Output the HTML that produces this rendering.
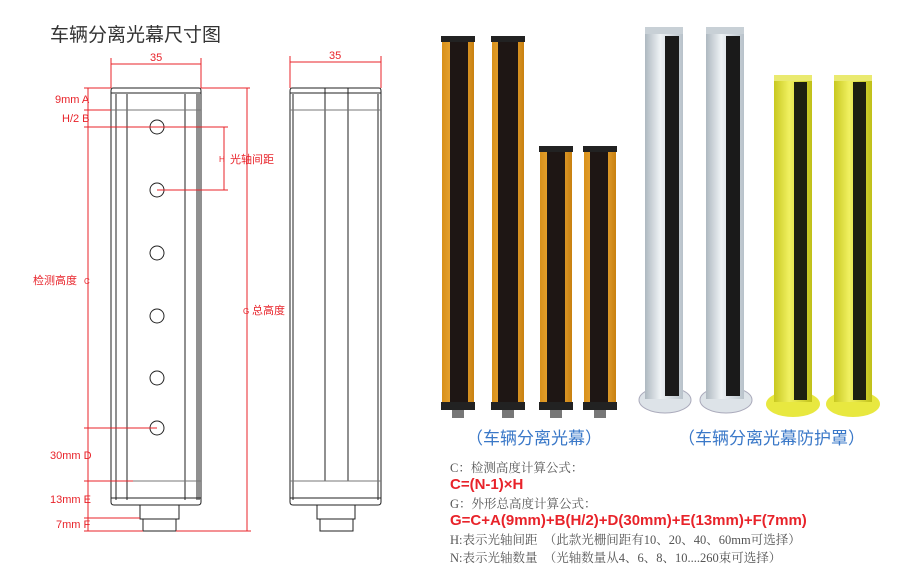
<!DOCTYPE html>
<html><head><meta charset="utf-8"><style>
body{margin:0;background:#fff;width:912px;height:581px;overflow:hidden;position:relative;font-family:"Liberation Sans","Noto Sans CJK SC",sans-serif}
.t{position:absolute;white-space:nowrap}
.f{font-family:"Liberation Serif","Noto Serif CJK SC",serif;color:#555;font-size:12.5px}
.r{color:#e8232a;font-weight:bold;font-size:15px;font-family:"Liberation Sans","Noto Sans CJK SC",sans-serif}
</style></head><body>
<svg width="912" height="581" style="position:absolute;left:0;top:0" font-family="Liberation Sans, Noto Sans CJK SC, sans-serif">
<defs>
<linearGradient id="og" x1="0" x2="1"><stop offset="0" stop-color="#d8901a"/><stop offset=".5" stop-color="#f0b040"/><stop offset="1" stop-color="#c88010"/></linearGradient>
<linearGradient id="sg" x1="0" x2="1"><stop offset="0" stop-color="#aeb8c0"/><stop offset=".4" stop-color="#eef2f5"/><stop offset="1" stop-color="#b8c2ca"/></linearGradient>
<linearGradient id="yg" x1="0" x2="1"><stop offset="0" stop-color="#c8c820"/><stop offset=".4" stop-color="#f0f060"/><stop offset="1" stop-color="#c0c018"/></linearGradient>
</defs>
<g stroke="#222" stroke-width="1" fill="none">
<path d="M113,88 H199 Q201,88 201,91 V502 Q201,505 198,505 H114 Q111,505 111,502 V91 Q111,88 113,88Z"/>
<line x1="116" y1="94" x2="116" y2="500"/><line x1="127" y1="94" x2="127" y2="500"/>
<line x1="185" y1="94" x2="185" y2="500"/><line x1="197" y1="94" x2="197" y2="500"/><line x1="199" y1="94" x2="199" y2="500"/>
<line x1="111" y1="110" x2="201" y2="110" stroke="#777"/>
<line x1="111" y1="481" x2="201" y2="481" stroke="#777"/>
<line x1="111" y1="93" x2="201" y2="93"/><line x1="111" y1="498" x2="201" y2="498"/>
<path d="M140,505 V519 H179 V505 M143,519 V531 H176 V519"/>
<path d="M292,88 H379 Q381,88 381,91 V502 Q381,505 378,505 H293 Q290,505 290,502 V91 Q290,88 292,88Z"/>
<line x1="293" y1="94" x2="293" y2="500"/><line x1="378" y1="94" x2="378" y2="500"/>
<line x1="325" y1="88" x2="325" y2="481"/><line x1="348" y1="88" x2="348" y2="481"/>
<line x1="290" y1="110" x2="381" y2="110" stroke="#777"/><line x1="290" y1="481" x2="381" y2="481" stroke="#777"/>
<line x1="290" y1="93" x2="381" y2="93"/><line x1="290" y1="498" x2="381" y2="498"/>
<path d="M317,505 V519 H355 V505 M320,519 V531 H353 V519"/>
<g fill="#fff"><circle cx="157" cy="127" r="7"/><circle cx="157" cy="190" r="7"/><circle cx="157" cy="253" r="7"/><circle cx="157" cy="316" r="7"/><circle cx="157" cy="378" r="7"/><circle cx="157" cy="428" r="7"/></g>
</g>
<g stroke="#e8232a" stroke-width="1" fill="none">
<line x1="111" y1="58" x2="111" y2="88"/><line x1="201" y1="58" x2="201" y2="88"/><line x1="111" y1="64" x2="201" y2="64"/>
<line x1="290" y1="56" x2="290" y2="88"/><line x1="381" y1="56" x2="381" y2="88"/><line x1="290" y1="62" x2="381" y2="62"/>
<line x1="88" y1="88" x2="88" y2="531"/>
<line x1="84" y1="88" x2="111" y2="88"/><line x1="201" y1="88" x2="250" y2="88"/>
<line x1="84" y1="110" x2="111" y2="110"/>
<line x1="84" y1="127" x2="157" y2="127"/><line x1="157" y1="127" x2="228" y2="127"/><line x1="157" y1="190" x2="228" y2="190"/>
<line x1="224" y1="127" x2="224" y2="190"/>
<line x1="84" y1="428" x2="157" y2="428"/>
<line x1="84" y1="481" x2="133" y2="481"/><line x1="84" y1="518" x2="140" y2="518"/>
<line x1="84" y1="531" x2="143" y2="531"/><line x1="176" y1="531" x2="251" y2="531"/>
<line x1="247" y1="88" x2="247" y2="531"/>
</g>
<g fill="#e8232a" font-size="11">
<text x="150" y="61">35</text><text x="329" y="59">35</text>
<text x="55" y="103">9mm A</text><text x="62" y="122">H/2 B</text>
<text x="219" y="162" font-size="8">H</text><text x="230" y="163">光轴间距</text>
<text x="33" y="284">检测高度</text><text x="84" y="284" font-size="8">C</text>
<text x="243" y="314" font-size="8">G</text><text x="252" y="314">总高度</text>
<text x="50" y="459">30mm D</text><text x="50" y="503">13mm E</text><text x="56" y="528">7mm F</text>
</g>
<g>
<rect x="442" y="36" width="32" height="374" fill="url(#og)"/><rect x="450" y="36" width="18" height="374" fill="#1e1614"/><rect x="441" y="36" width="34" height="6" fill="#222"/><rect x="441" y="402" width="34" height="8" fill="#222"/><rect x="452" y="410" width="12" height="8" fill="#777"/>
<rect x="492" y="36" width="32" height="374" fill="url(#og)"/><rect x="498" y="36" width="20" height="374" fill="#1e1614"/><rect x="491" y="36" width="34" height="6" fill="#222"/><rect x="491" y="402" width="34" height="8" fill="#222"/><rect x="502" y="410" width="12" height="8" fill="#777"/>
<rect x="540" y="146" width="32" height="264" fill="url(#og)"/><rect x="547" y="146" width="18" height="264" fill="#1e1614"/><rect x="539" y="146" width="34" height="6" fill="#222"/><rect x="539" y="402" width="34" height="8" fill="#222"/><rect x="550" y="410" width="12" height="8" fill="#777"/>
<rect x="584" y="146" width="32" height="264" fill="url(#og)"/><rect x="590" y="146" width="18" height="264" fill="#1e1614"/><rect x="583" y="146" width="34" height="6" fill="#222"/><rect x="583" y="402" width="34" height="8" fill="#222"/><rect x="594" y="410" width="12" height="8" fill="#777"/>
<ellipse cx="665" cy="400" rx="26" ry="13" fill="#dde3e8" stroke="#aab"/><rect x="645" y="27" width="38" height="372" fill="url(#sg)"/><rect x="665" y="36" width="14" height="360" fill="#1a1a1a"/><rect x="645" y="27" width="38" height="7" fill="#c8d0d6"/>
<ellipse cx="726" cy="400" rx="26" ry="13" fill="#dde3e8" stroke="#aab"/><rect x="706" y="27" width="38" height="372" fill="url(#sg)"/><rect x="726" y="36" width="14" height="360" fill="#1a1a1a"/><rect x="706" y="27" width="38" height="7" fill="#c8d0d6"/>
<ellipse cx="793" cy="404" rx="27" ry="13" fill="#e8e840"/><rect x="774" y="75" width="38" height="327" fill="url(#yg)"/><rect x="794" y="82" width="13" height="318" fill="#1e2010"/><rect x="774" y="75" width="38" height="6" fill="#eaea70"/>
<ellipse cx="853" cy="404" rx="27" ry="13" fill="#e8e840"/><rect x="834" y="75" width="38" height="327" fill="url(#yg)"/><rect x="853" y="82" width="13" height="318" fill="#1e2010"/><rect x="834" y="75" width="38" height="6" fill="#eaea70"/>
</g>
</svg>
<div class="t" style="left:50px;top:20px;font-size:19px;color:#333">车辆分离光幕尺寸图</div>
<div class="t" style="left:466px;top:424px;font-size:17px;color:#3a78c8">（车辆分离光幕）</div>
<div class="t" style="left:678px;top:424px;font-size:17px;color:#3a78c8">（车辆分离光幕防护罩）</div>
<div class="t f" style="left:450px;top:458px">C：检测高度计算公式：</div>
<div class="t r" style="left:450px;top:476px">C=(N-1)×H</div>
<div class="t f" style="left:450px;top:494px">G：外形总高度计算公式：</div>
<div class="t r" style="left:450px;top:512px">G=C+A(9mm)+B(H/2)+D(30mm)+E(13mm)+F(7mm)</div>
<div class="t f" style="left:450px;top:530px">H:表示光轴间距　（此款光栅间距有10、20、40、60mm可选择）</div>
<div class="t f" style="left:450px;top:548px">N:表示光轴数量　（光轴数量从4、6、8、10....260束可选择）</div>
</body></html>
